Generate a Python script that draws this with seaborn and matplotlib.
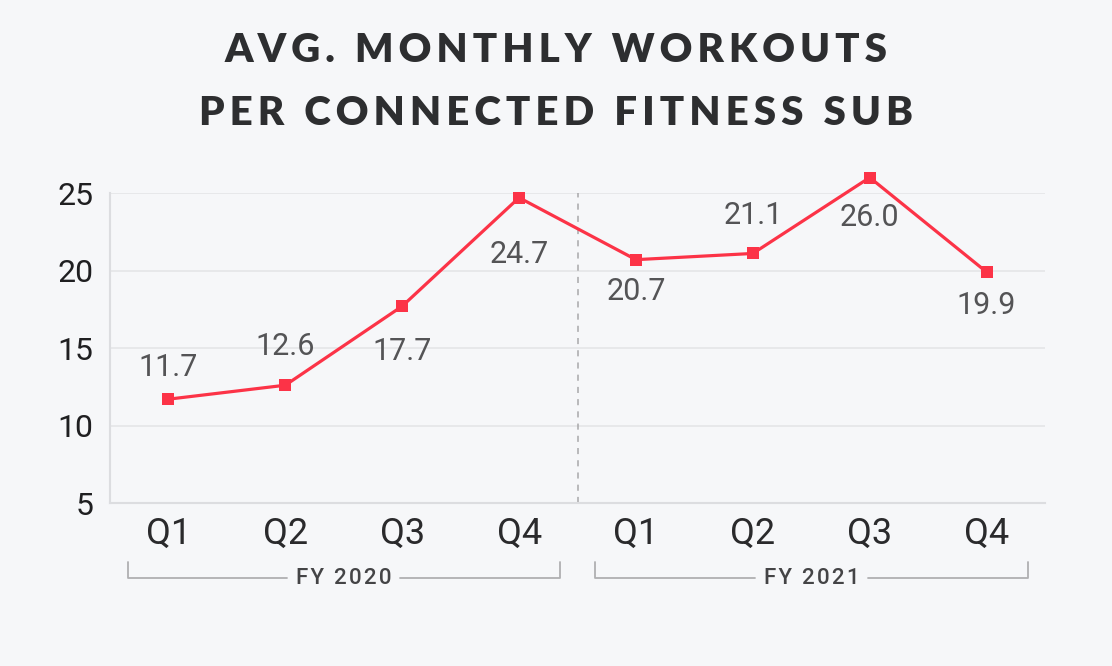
import pandas as pd
import numpy as np
import matplotlib
matplotlib.use("Agg")
import matplotlib.pyplot as plt
import seaborn as sns

# data
quarters = ['Q1', 'Q2', 'Q3', 'Q4', 'Q1', 'Q2', 'Q3', 'Q4']
years = ['FY 2020', 'FY 2021']
workouts = [11.7, 12.6, 17.7, 24.7, 20.7, 21.1, 26.0, 19.9]
y_ticks = [5, 10, 15, 20, 25]

# label offsets in points (negative = below the marker)
label_dy = [23, 28, -33, -41, -23, 27, -29, -24]

bg = '#f6f7f9'
red = '#fc3347'

sns.set_theme(style='white')
plt.rcParams['font.family'] = ['Roboto', 'DejaVu Sans']

df = pd.DataFrame({'pos': np.arange(len(workouts)), 'workouts': workouts})

fig = plt.figure(figsize=(11.12, 6.66), dpi=100, facecolor=bg)
ax = fig.add_axes([0.0989, 0.2447, 0.8409, 0.4655])
ax.set_facecolor(bg)

sns.lineplot(data=df, x='pos', y='workouts', ax=ax, color=red, linewidth=2.3,
             marker='s', markersize=8, markeredgewidth=0, clip_on=False, zorder=5)

ax.set_xlim(-0.5, len(workouts) - 0.5)
ax.set_ylim(5, 25)
ax.set_yticks(y_ticks)
ax.set_xticks(df['pos'])
ax.set_xticklabels(quarters)
ax.set_xticks(np.arange(-0.5, len(workouts)), minor=True)
ax.tick_params(axis='x', which='major', length=0, pad=9, labelsize=26, labelcolor='#2a2a2c')
ax.tick_params(axis='x', which='minor', direction='in', length=7, width=1, color='#dcdde0')
ax.tick_params(axis='y', length=0, pad=12, labelsize=23, labelcolor='#1f1f21')
ax.set_xlabel('')
ax.set_ylabel('')

ax.yaxis.grid(True, color='#e4e5e8', linewidth=1.2)
ax.set_axisbelow(True)
for side in ['top', 'right']:
    ax.spines[side].set_visible(False)
for side in ['left', 'bottom']:
    ax.spines[side].set_color('#dcdde0')
    ax.spines[side].set_linewidth(1.5)

# divider between fiscal years
ax.axvline(3.5, color='#a8a8aa', linestyle=(0, (4, 4)), linewidth=1.1, zorder=1)

# value labels
for i, v in enumerate(workouts):
    ax.annotate(f'{v:.1f}', (i, v), xytext=(0, label_dy[i]), textcoords='offset points',
                ha='center', va='center', fontsize=22, color='#545456',
                annotation_clip=False)

# fiscal year brackets under the quarter labels
trans = ax.get_xaxis_transform()
yb = -0.242
labels = []
for k, yr in enumerate(years):
    xc = 4 * k + 1.5
    t = ax.text(xc, yb, '\u200a'.join(yr), transform=trans, ha='center', va='center',
                fontsize=16, color='#444446', fontweight='medium')
    labels.append(t)

fig.canvas.draw()
renderer = fig.canvas.get_renderer()
inv = ax.transData.inverted()
for k, t in enumerate(labels):
    bb = t.get_window_extent(renderer)
    left = inv.transform((bb.x0 - 9, 0))[0]
    right = inv.transform((bb.x1 + 9, 0))[0]
    x0 = 4 * k - 0.5 + 0.15
    x1 = 4 * k + 3.5 - 0.15
    ax.plot([x0, x0, left], [yb + 0.052, yb, yb], transform=trans, clip_on=False,
            color='#b0b0b2', linewidth=1.3)
    ax.plot([right, x1, x1], [yb, yb, yb + 0.052], transform=trans, clip_on=False,
            color='#b0b0b2', linewidth=1.3)

# spaced-out title
def spaced(s):
    return '\u2009'.join(s).replace('\u2009 \u2009', '\u2009\u2009\u2009\u2009')

fig.text(0.5, 0.924, spaced('AVG. MONTHLY WORKOUTS'), ha='center', va='center',
         fontsize=29, fontweight='heavy', color='#2d2e30',
         family=['Lato', 'DejaVu Sans'])
fig.text(0.5, 0.830, spaced('PER CONNECTED FITNESS SUB'), ha='center', va='center',
         fontsize=29, fontweight='heavy', color='#2d2e30',
         family=['Lato', 'DejaVu Sans'])

fig.savefig('out.png', dpi=100, facecolor=bg)
